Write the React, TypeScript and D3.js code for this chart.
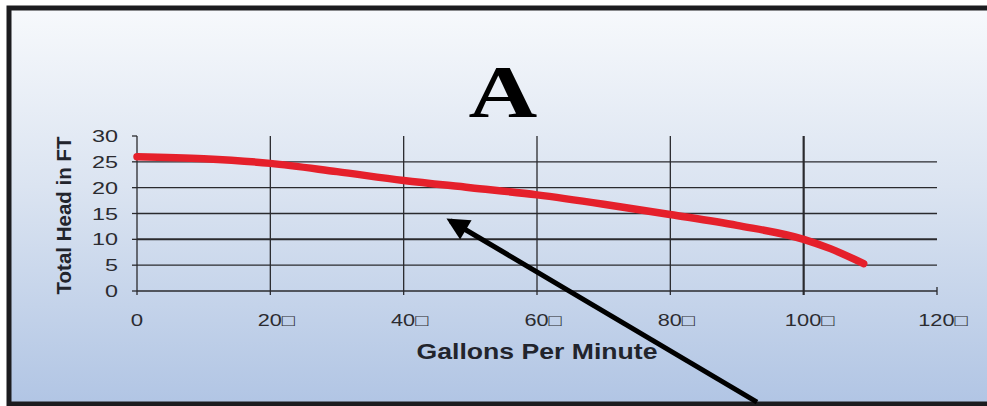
import * as React from "react";
import * as d3 from "d3";

// pump curve
const gpm = [0, 10, 20, 30, 40, 50, 60, 70, 80, 90, 100, 104, 109];
const head = [26, 25.6, 24.7, 23.1, 21.4, 20, 18.6, 16.8, 14.8, 12.7, 10, 8.2, 5.3];

const xTicks = [0, 20, 40, 60, 80, 100, 120];
const xTickLabels = ["0", "20\u25A1", "40\u25A1", "60\u25A1", "80\u25A1", "100\u25A1", "120\u25A1"];
const yTicks = [0, 5, 10, 15, 20, 25, 30];
const yGrid = [5, 10, 15, 20, 25];
const xGrid = [20, 40, 60, 80, 100];

// arrow annotation in data units: tail -> tip
const arrowFrom = [93, -21.5];
const arrowTo = [47, 13.6];

const W = 987, H = 406;

export default function App() {
  const x = d3.scaleLinear().domain([0, 120]).range([137, 937]);
  const y = d3.scaleLinear().domain([0, 30]).range([291, 136]);

  const pts = gpm.map((g, i) => [g, head[i]] as [number, number]);
  const line = d3.line<[number, number]>()
    .x(d => x(d[0]))
    .y(d => y(d[1]))
    .curve(d3.curveMonotoneX);

  const tickFont = "'Liberation Sans', Arial, sans-serif";
  const dark = "#2a2a2e";

  return (
    <svg width={W} height={H} style={{ position: "absolute", left: 0, top: 0 }}>
      <defs>
        <linearGradient id="bg" x1="0" y1="0" x2="0" y2="1">
          <stop offset="0%" stopColor="#f7f9fc" />
          <stop offset="45%" stopColor="#dbe4f1" />
          <stop offset="100%" stopColor="#b1c5e4" />
        </linearGradient>
        <marker id="head" viewBox="0 0 10 10" refX="8" refY="5" markerWidth="5.5" markerHeight="4.5" orient="auto">
          <path d="M0,0 L10,5 L0,10 z" fill="#000" />
        </marker>
      </defs>
      <rect x={0} y={0} width={W} height={H} fill="#fff" />
      <rect x={9} y={8} width={W} height={H - 10} fill="url(#bg)" stroke="#1c1c1f" strokeWidth={5} />

      {/* title */}
      <text transform="translate(503,117) scale(1.27,1)" textAnchor="middle"
        fontFamily="'Liberation Serif', 'Times New Roman', serif" fontWeight="bold" fontSize={75} fill="#000">A</text>

      {/* grid */}
      {yGrid.map(v => (
        <line key={"h" + v} x1={x(0)} x2={x(120)} y1={y(v)} y2={y(v)}
          stroke={dark} strokeWidth={v === 10 ? 2 : 1.3} />
      ))}
      {xGrid.map(v => (
        <line key={"v" + v} x1={x(v)} x2={x(v)} y1={y(30)} y2={y(0) + 4}
          stroke={dark} strokeWidth={v === 100 ? 2.2 : 1.3} />
      ))}
      {/* axes */}
      <line x1={x(0)} x2={x(0)} y1={y(30)} y2={y(0) + 4} stroke={dark} strokeWidth={1.3} />
      <line x1={x(0)} x2={x(120)} y1={y(0)} y2={y(0)} stroke={dark} strokeWidth={1.5} />
      <line x1={x(120)} x2={x(120)} y1={y(0) - 4} y2={y(0) + 4} stroke={dark} strokeWidth={1.3} />
      {yTicks.map(v => (
        <line key={"yt" + v} x1={x(0) - 5} x2={x(0)} y1={y(v)} y2={y(v)} stroke={dark} strokeWidth={1.3} />
      ))}

      {/* tick labels */}
      {yTicks.map(v => {
        const s = String(v);
        return (
          <text key={"yl" + v} x={118} y={y(v) + 6} textAnchor="end" fontFamily={tickFont} fontSize={16.5}
            fill="#2b2b30" textLength={s.length * 13} lengthAdjust="spacingAndGlyphs">{s}</text>
        );
      })}
      {xTicks.map((v, i) => {
        const s = xTickLabels[i];
        const len = s.length * 12.4;
        return (
          <text key={"xl" + v} x={x(v) + (i === 0 ? 0 : 6)} y={325.5} textAnchor="middle" fontFamily={tickFont}
            fontSize={16.5} fill="#2b2b30" textLength={len} lengthAdjust="spacingAndGlyphs">{s}</text>
        );
      })}

      {/* axis titles */}
      <text x={537} y={359} textAnchor="middle" fontFamily={tickFont} fontWeight="bold" fontSize={22}
        fill="#22242c" textLength={241} lengthAdjust="spacingAndGlyphs">Gallons Per Minute</text>
      <text transform={`translate(71,${(y(0) + y(30)) / 2 + 2}) rotate(-90)`} textAnchor="middle"
        fontFamily={tickFont} fontWeight="bold" fontSize={20.5} fill="#22242c">Total Head in FT</text>

      {/* curve */}
      <path d={line(pts) || ""} fill="none" stroke="#e5202b" strokeWidth={7.5} strokeLinecap="round" strokeLinejoin="round" />

      {/* arrow */}
      <line x1={x(arrowFrom[0])} y1={y(arrowFrom[1])} x2={x(arrowTo[0])} y2={y(arrowTo[1])}
        stroke="#000" strokeWidth={5} markerEnd="url(#head)" />
    </svg>
  );
}
